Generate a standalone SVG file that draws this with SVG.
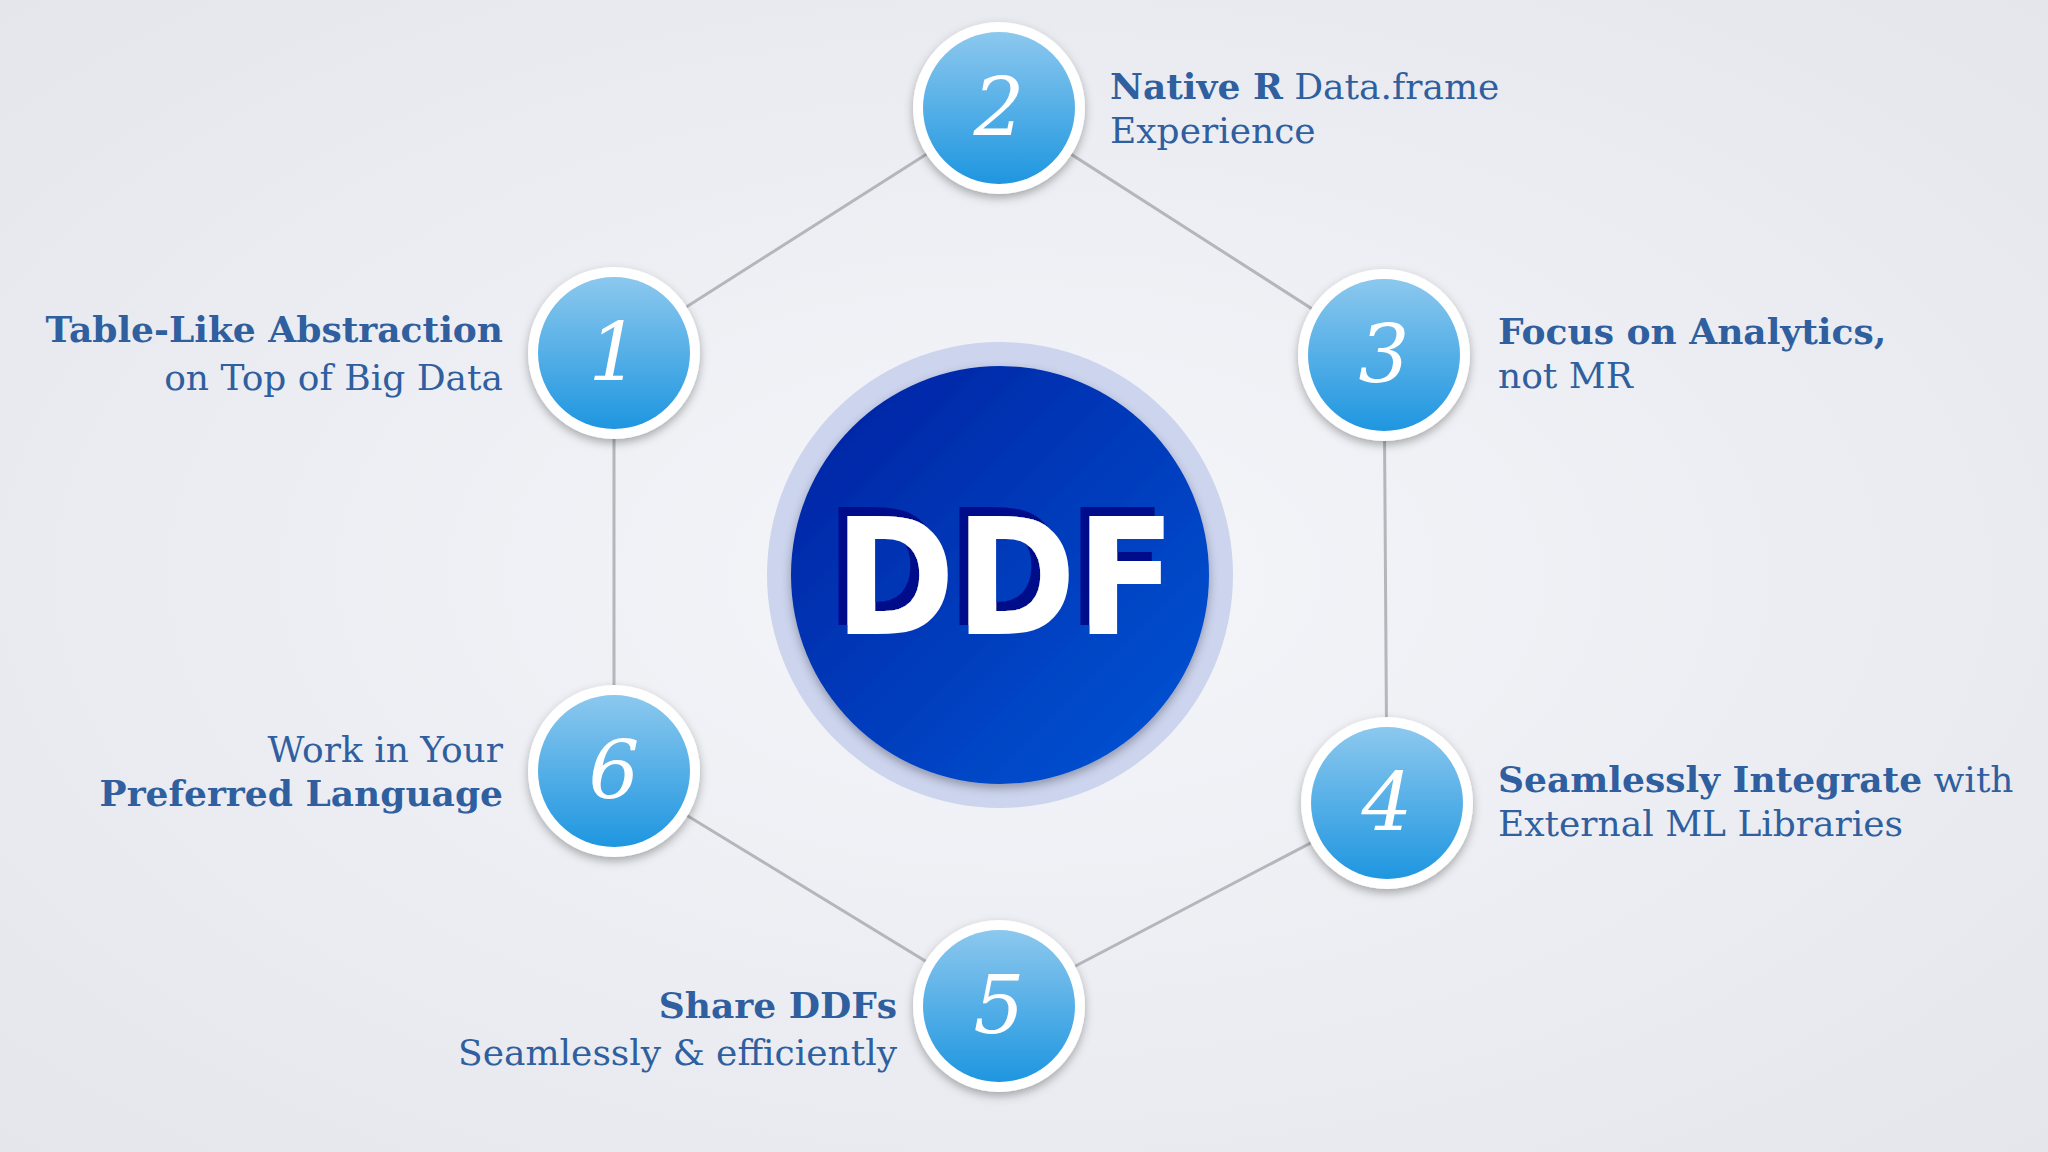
<svg xmlns="http://www.w3.org/2000/svg" width="2048" height="1152" viewBox="0 0 2048 1152">
<defs>
<radialGradient id="bg" cx="0.5" cy="0.5" r="0.7"><stop offset="0" stop-color="#f5f6fa"/><stop offset="1" stop-color="#e4e6ec"/></radialGradient>
<linearGradient id="nb" x1="0" y1="0" x2="0" y2="1"><stop offset="0" stop-color="#8cc8ee"/><stop offset="1" stop-color="#1e96e0"/></linearGradient>
<linearGradient id="cb" x1="0" y1="0" x2="1" y2="1"><stop offset="0" stop-color="#0020a0"/><stop offset="1" stop-color="#0656d6"/></linearGradient>
<filter id="sh" x="-20%" y="-20%" width="140%" height="140%"><feDropShadow dx="0" dy="4" stdDeviation="5" flood-color="#000" flood-opacity="0.3"/></filter>
<filter id="ts" x="-20%" y="-20%" width="140%" height="140%"><feDropShadow dx="-9" dy="-9" stdDeviation="0" flood-color="#00108a" flood-opacity="1"/></filter>
<style>
.t{font-family:"DejaVu Serif","Liberation Serif",serif;font-size:36px;fill:#2f5f9f}
.b{font-weight:bold}
.n{font-family:"DejaVu Serif","Liberation Serif",serif;font-style:italic;font-size:80px;fill:#fff;text-anchor:middle}
.c{stroke:#b4b6bc;stroke-width:3;fill:none}
</style>
</defs>
<rect width="2048" height="1152" fill="url(#bg)"/>
<g id="connectors">
<path class="c" d="M614 353L999 108L1384 355L1387 803L999 1006L614 771Z"/>
</g>
<g id="center">
<circle cx="1000" cy="575" r="233" fill="#ccd4ee"/>
<circle cx="1000" cy="575" r="209" fill="url(#cb)" filter="url(#sh)"/>
<text x="1005" y="634" text-anchor="middle" font-family="DejaVu Sans Condensed,DejaVu Sans,sans-serif" font-weight="bold" font-size="162" fill="#fff" filter="url(#ts)">DDF</text>
</g>
<g id="n1"><circle cx="614" cy="353" r="86" fill="#fff" filter="url(#sh)"/><circle cx="614" cy="353" r="76" fill="url(#nb)"/><text class="n" x="614" y="380">1</text>
<text class="t" text-anchor="end"><tspan class="b" x="503" y="342">Table-Like Abstraction</tspan><tspan x="503" y="390">on Top of Big Data</tspan></text></g>
<g id="n2"><circle cx="999" cy="108" r="86" fill="#fff" filter="url(#sh)"/><circle cx="999" cy="108" r="76" fill="url(#nb)"/><text class="n" x="999" y="135">2</text>
<text class="t"><tspan x="1110" y="99"><tspan class="b">Native R</tspan> Data.frame</tspan><tspan x="1110" y="143">Experience</tspan></text></g>
<g id="n3"><circle cx="1384" cy="355" r="86" fill="#fff" filter="url(#sh)"/><circle cx="1384" cy="355" r="76" fill="url(#nb)"/><text class="n" x="1384" y="382">3</text>
<text class="t"><tspan class="b" x="1498" y="344">Focus on Analytics,</tspan><tspan x="1498" y="388">not MR</tspan></text></g>
<g id="n4"><circle cx="1387" cy="803" r="86" fill="#fff" filter="url(#sh)"/><circle cx="1387" cy="803" r="76" fill="url(#nb)"/><text class="n" x="1387" y="830">4</text>
<text class="t"><tspan x="1498" y="792"><tspan class="b">Seamlessly Integrate</tspan> with</tspan><tspan x="1498" y="836">External ML Libraries</tspan></text></g>
<g id="n5"><circle cx="999" cy="1006" r="86" fill="#fff" filter="url(#sh)"/><circle cx="999" cy="1006" r="76" fill="url(#nb)"/><text class="n" x="999" y="1033">5</text>
<text class="t" text-anchor="end"><tspan class="b" x="897" y="1018">Share DDFs</tspan><tspan x="897" y="1065">Seamlessly &amp; efficiently</tspan></text></g>
<g id="n6"><circle cx="614" cy="771" r="86" fill="#fff" filter="url(#sh)"/><circle cx="614" cy="771" r="76" fill="url(#nb)"/><text class="n" x="614" y="798">6</text>
<text class="t" text-anchor="end"><tspan x="503" y="762">Work in Your</tspan><tspan class="b" x="503" y="806">Preferred Language</tspan></text></g>
</svg>
